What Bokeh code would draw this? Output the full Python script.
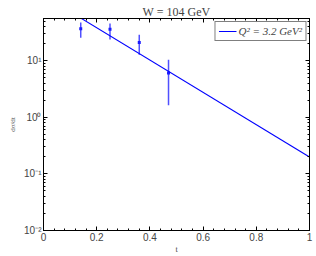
from bokeh.plotting import figure
from bokeh.models import (Range1d, LogAxis, LinearAxis, FixedTicker, CustomJSTickFormatter,
                          Legend, LegendItem)
from bokeh.embed import file_html
from bokeh.resources import INLINE

# data
pt_t = [0.14, 0.25, 0.36, 0.47]
pt_val = [37.0, 36.0, 21.0, 6.1]
pt_low = [25.7, 23.7, 12.8, 1.64]
pt_high = [47.8, 45.8, 29.0, 10.4]

fit_t = [0.14, 1.0]
fit_val = [57.0, 0.2]

x_ticks = [0, 0.2, 0.4, 0.6, 0.8, 1.0]
y_ticks = [0.01, 0.1, 1, 10]

title_text = "W = 104 GeV"
legend_text = "Q² = 3.2 GeV²"

p = figure(width=316, height=256, y_axis_type="log", output_backend="svg",
           toolbar_location=None, x_range=Range1d(0, 1), y_range=Range1d(0.01, 56),
           min_border_left=43, min_border_right=7, min_border_top=18, min_border_bottom=26)

p.title.text = title_text
p.title.align = "center"
p.title.text_font = "Liberation Serif"
p.title.text_font_style = "normal"
p.title.text_font_size = "12px"
p.title.standoff = 0
p.title.offset = 0

p.grid.visible = False
p.outline_line_color = "black"
p.outline_line_width = 1
p.background_fill_color = "white"
p.border_fill_color = "white"

sup = "{'-':'\u207b','0':'\u2070','1':'\u00b9','2':'\u00b2','3':'\u00b3'}"
yfmt = CustomJSTickFormatter(code="const s=" + sup + ";const e=Math.round(Math.log10(tick));"
                             "return '10'+String(e).split('').map(c=>s[c]).join('');")
xfmt = CustomJSTickFormatter(code="return String(Math.round(tick*10)/10);")
nofmt = CustomJSTickFormatter(code="return '';")

minor_y = [m * 10.0 ** e for e in range(-2, 2) for m in range(2, 10)]
minor_x = [i / 25 for i in range(26)]

for ax in p.xaxis:
    ax.ticker = FixedTicker(ticks=x_ticks, minor_ticks=minor_x)
    ax.formatter = xfmt
for ax in p.yaxis:
    ax.ticker = FixedTicker(ticks=y_ticks, minor_ticks=minor_y)
    ax.formatter = yfmt

for ax in list(p.xaxis) + list(p.yaxis):
    ax.major_tick_in = 4
    ax.major_tick_out = 0
    ax.minor_tick_in = 2
    ax.minor_tick_out = 0
    ax.major_label_text_font = "Liberation Sans"
    ax.major_label_text_font_size = "10px"
    ax.major_label_standoff = 2
    ax.axis_line_color = "black"

p.xaxis.axis_label = "t"
p.xaxis.axis_label_text_font = "Liberation Serif"
p.xaxis.axis_label_text_font_style = "normal"
p.xaxis.axis_label_text_font_size = "8px"
p.xaxis.axis_label_standoff = 1

p.yaxis.axis_label = "dσ/dt"
p.yaxis.axis_label_text_font = "Liberation Serif"
p.yaxis.axis_label_text_font_style = "normal"
p.yaxis.axis_label_text_font_size = "7px"
p.yaxis.axis_label_standoff = 4

top = LinearAxis(ticker=FixedTicker(ticks=x_ticks, minor_ticks=minor_x), formatter=nofmt,
                 major_tick_in=4, major_tick_out=0,
                 minor_tick_in=2, minor_tick_out=0, major_label_standoff=0)
right = LogAxis(ticker=FixedTicker(ticks=y_ticks, minor_ticks=minor_y), formatter=nofmt,
                major_tick_in=4, major_tick_out=0,
                minor_tick_in=2, minor_tick_out=0, major_label_standoff=0)
p.add_layout(top, "above")
p.add_layout(right, "right")

err_color = "#5050ff"
p.segment(x0=pt_t, y0=pt_low, x1=pt_t, y1=pt_high, line_color=err_color, line_width=1.5)
p.scatter(x=pt_t, y=pt_val, marker="square", size=3, fill_color="#1a1aff", line_color=None)
r = p.line(x=fit_t, y=fit_val, line_color="#0000ff", line_width=1.1)

legend = Legend(items=[LegendItem(label=legend_text, renderers=[r])], location="top_right")
legend.label_text_font = "Liberation Serif"
legend.label_text_font_style = "italic"
legend.label_text_font_size = "11px"
legend.border_line_color = "black"
legend.border_line_width = 1
legend.margin = 3
legend.padding = 3
legend.spacing = 0
legend.glyph_width = 18
legend.glyph_height = 12
legend.label_standoff = 2
legend.label_height = 12
p.add_layout(legend)

open("out.html", "w").write(file_html(p, INLINE))
